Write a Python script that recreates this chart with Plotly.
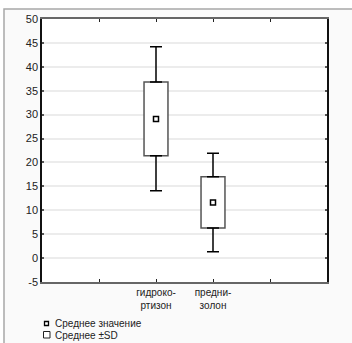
import plotly.graph_objects as go

# ---- data ----
categories = ["гидрокортизон", "преднизолон"]
tick_labels = ["гидроко-<br>ртизон", "предни-<br>золон"]
axis_slots = [" ", "гидрокортизон", "преднизолон", "  "]
mean_values = [29.1, 11.6]
sd_low = [21.4, 6.3]
sd_high = [36.8, 17.0]
whisker_low = [14.1, 1.3]
whisker_high = [44.2, 21.9]
y_ticks = [-5, 0, 5, 10, 15, 20, 25, 30, 35, 40, 45, 50]
y_tick_text = ["-5", "0", "5", "10", "15", "20", "25", "30", "35", "40", "45", "50"]
legend_labels = ["Среднее значение", "Среднее ±SD"]

FONT = "Liberation Sans, Arial, sans-serif"

fig = go.Figure()

# SD boxes
fig.add_trace(go.Bar(
    x=categories,
    y=[h - l for h, l in zip(sd_high, sd_low)],
    base=sd_low,
    width=0.42,
    marker=dict(color="white", line=dict(color="#555555", width=1.5)),
    name=legend_labels[1],
    showlegend=False,
    hoverinfo="skip",
))

# upper whiskers
fig.add_trace(go.Scatter(
    x=categories, y=sd_high, mode="markers",
    marker=dict(size=1, opacity=0),
    error_y=dict(type="data", symmetric=False,
                 array=[w - h for w, h in zip(whisker_high, sd_high)],
                 arrayminus=[0, 0], color="black", thickness=1.5, width=6),
    showlegend=False, hoverinfo="skip",
))
# lower whiskers
fig.add_trace(go.Scatter(
    x=categories, y=sd_low, mode="markers",
    marker=dict(size=1, opacity=0),
    error_y=dict(type="data", symmetric=False,
                 array=[0, 0],
                 arrayminus=[l - w for l, w in zip(sd_low, whisker_low)],
                 color="black", thickness=1.5, width=6),
    showlegend=False, hoverinfo="skip",
))

# means
fig.add_trace(go.Scatter(
    x=categories, y=mean_values, mode="markers",
    marker=dict(symbol="square-open", size=5, color="black", line=dict(width=1.5)),
    name=legend_labels[0],
    showlegend=False,
))

L, R, T, B = 42, 25, 19, 61
W, H = 352, 343
pw, ph = W - L - R, H - T - B


def px_x(p):
    return (p - L) / pw


def px_y(p):
    return (H - B - p) / ph


# outer frame
fig.add_shape(type="rect", xref="paper", yref="paper", layer="below",
              x0=px_x(4), x1=px_x(W + 10), y0=px_y(9), y1=px_y(H + 10),
              fillcolor="#fafafa", line=dict(color="#a8a8a8", width=1.5))
# plot area white
fig.add_shape(type="rect", xref="paper", yref="paper", layer="below",
              x0=0, x1=1, y0=0, y1=1, fillcolor="white", line=dict(width=0))

# legend (drawn below the plot)
fig.add_shape(type="rect", xref="paper", yref="paper",
              x0=px_x(44.5), x1=px_x(48.5), y0=px_y(321.5), y1=px_y(325.5),
              fillcolor="white", line=dict(color="black", width=1.3))
fig.add_shape(type="rect", xref="paper", yref="paper",
              x0=px_x(43.5), x1=px_x(50), y0=px_y(331.5), y1=px_y(338),
              fillcolor="white", line=dict(color="#222222", width=1))
for label, yy in zip(legend_labels, [323.5, 335]):
    fig.add_annotation(text=label, xref="paper", yref="paper",
                       x=px_x(52.5), y=px_y(yy), xanchor="left", yanchor="middle",
                       showarrow=False, font=dict(size=10, color="#222222"))

fig.update_layout(
    width=W, height=H,
    margin=dict(l=L, r=R, t=T, b=B),
    paper_bgcolor="white",
    plot_bgcolor="rgba(0,0,0,0)",
    font=dict(family=FONT, size=11, color="#222222"),
    showlegend=False,
    barmode="overlay",
)

fig.update_xaxes(
    type="category", categoryorder="array", categoryarray=axis_slots,
    range=[-1, 4],
    tickmode="array", tickvals=axis_slots, ticktext=["", tick_labels[0], tick_labels[1], ""],
    ticks="inside", ticklen=3, tickwidth=1, tickcolor="#222222",
    showline=True, linecolor="#666666", linewidth=2, mirror="ticks",
    showgrid=False, zeroline=False, tickangle=0,
    tickfont=dict(size=10, color="#222222"),
)
fig.update_yaxes(
    range=[-5, 50],
    tickmode="array", tickvals=y_ticks, ticktext=y_tick_text,
    ticks="inside", ticklen=2, tickwidth=2, tickcolor="#555555",
    showline=True, linecolor="#111111", linewidth=1.5, mirror="ticks",
    showgrid=True, gridcolor="#ececec", gridwidth=1.5,
    zeroline=False,
    tickfont=dict(size=11, color="#222222"),
)

fig.write_html("out.html", config={"displayModeBar": False},
               post_script="document.body.style.margin='0';")
